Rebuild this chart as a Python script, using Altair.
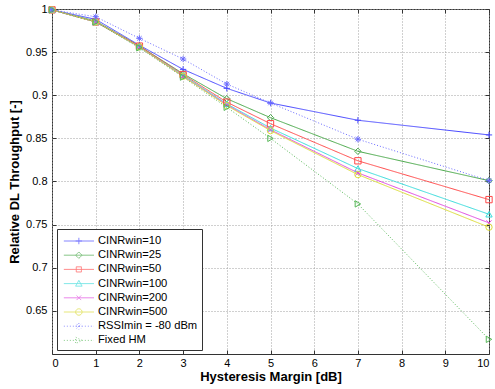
import altair as alt
import pandas as pd

hm = [0, 1, 2, 3, 4, 5, 7, 10]
series_names = ["CINRwin=10", "CINRwin=25", "CINRwin=50", "CINRwin=100",
                "CINRwin=200", "CINRwin=500", "RSSImin = -80 dBm", "Fixed HM"]
cinr10 = [0.999, 0.988, 0.958, 0.930, 0.908, 0.891, 0.871, 0.854]
cinr25 = [0.999, 0.986, 0.957, 0.925, 0.896, 0.874, 0.835, 0.801]
cinr50 = [0.999, 0.985, 0.957, 0.924, 0.892, 0.867, 0.824, 0.779]
cinr100 = [0.999, 0.985, 0.956, 0.923, 0.890, 0.862, 0.815, 0.762]
cinr200 = [0.999, 0.985, 0.956, 0.922, 0.889, 0.860, 0.810, 0.752]
cinr500 = [0.999, 0.985, 0.956, 0.922, 0.888, 0.859, 0.808, 0.747]
rssi = [0.999, 0.991, 0.966, 0.942, 0.913, 0.891, 0.849, 0.801]
fixed = [0.999, 0.985, 0.955, 0.921, 0.886, 0.850, 0.774, 0.617]
all_series = [cinr10, cinr25, cinr50, cinr100, cinr200, cinr500, rssi, fixed]

x_ticks = list(range(11))
y_ticks = [0.65, 0.7, 0.75, 0.8, 0.85, 0.9, 0.95, 1.0]

colors = ["#4848ff", "#48a848", "#ff4848", "#38dcdc", "#e048e0", "#dcdc38", "#6a6aff", "#58b858"]
dashes = [[1, 0]] * 6 + [[1, 2], [1, 2]]

rows = []
for name, vals in zip(series_names, all_series):
    for xv, yv in zip(hm, vals):
        rows.append({"hm": xv, "thr": yv, "series": name})
df = pd.DataFrame(rows)

# marker shapes for the data points
star = "M-1,0H1M0,-1V1M-0.7,-0.7L0.7,0.7M-0.7,0.7L0.7,-0.7"
point_shapes = ["M-1,0H1M0,-1V1", "diamond", "square", "triangle-up",
                "M-0.8,-0.8L0.8,0.8M-0.8,0.8L0.8,-0.8", "circle", star, "triangle-right"]

# legend symbols: line sample plus marker
cx = 1.38
r = 0.45
line = "M-0.72,0H3.5"
def f(v):
    return f"{v:.3f}"
leg_markers = [
    f"M{f(cx-r)},0H{f(cx+r)}M{f(cx)},{f(-r)}V{f(r)}",
    f"M{f(cx)},{f(-r)}L{f(cx+r)},0L{f(cx)},{f(r)}L{f(cx-r)},0Z",
    f"M{f(cx-0.8*r)},{f(-0.8*r)}H{f(cx+0.8*r)}V{f(0.8*r)}H{f(cx-0.8*r)}Z",
    f"M{f(cx)},{f(-r)}L{f(cx+r)},{f(0.8*r)}L{f(cx-r)},{f(0.8*r)}Z",
    f"M{f(cx-0.7*r)},{f(-0.7*r)}L{f(cx+0.7*r)},{f(0.7*r)}M{f(cx-0.7*r)},{f(0.7*r)}L{f(cx+0.7*r)},{f(-0.7*r)}",
    f"M{f(cx-r)},0A{f(r)},{f(r)} 0 1,0 {f(cx+r)},0A{f(r)},{f(r)} 0 1,0 {f(cx-r)},0Z",
    f"M{f(cx-r)},0H{f(cx+r)}M{f(cx)},{f(-r)}V{f(r)}M{f(cx-0.7*r)},{f(-0.7*r)}L{f(cx+0.7*r)},{f(0.7*r)}M{f(cx-0.7*r)},{f(0.7*r)}L{f(cx+0.7*r)},{f(-0.7*r)}",
    f"M{f(cx+r)},0L{f(cx-r)},{f(-r)}L{f(cx-r)},{f(r)}Z",
]
legend_shapes = [line + mk for mk in leg_markers]

font = "Liberation Sans"
axis_color = "#333333"
W, H = 437, 345
x_dom = [0, 10]
y_dom = [0.6, 1.0]

x_main = alt.X("hm:Q", scale=alt.Scale(domain=x_dom, nice=False),
               axis=alt.Axis(values=x_ticks, title="Hysteresis Margin [dB]", format="d"))
y_main = alt.Y("thr:Q", scale=alt.Scale(domain=y_dom, nice=False, zero=False),
               axis=alt.Axis(values=y_ticks, title="Relative DL Throughput [-]", format=".2~f"))

def tick_axis(vals, orient, offset):
    return alt.Axis(values=vals, orient=orient, offset=offset, title=None, labels=False,
                    grid=False, domain=False, ticks=True, tickSize=4, tickColor=axis_color, tickWidth=1)

# inward ticks: bottom/left edges (drawn from the opposite side with a negative offset)
x_in1 = alt.X("hm:Q", scale=alt.Scale(domain=x_dom, nice=False), axis=tick_axis(x_ticks, "top", -H))
y_in1 = alt.Y("thr:Q", scale=alt.Scale(domain=y_dom, nice=False, zero=False), axis=tick_axis(y_ticks, "right", -W))
# inward ticks: top/right edges
x_in2 = alt.X("hm:Q", scale=alt.Scale(domain=x_dom, nice=False), axis=tick_axis(x_ticks, "bottom", -H))
y_in2 = alt.Y("thr:Q", scale=alt.Scale(domain=y_dom, nice=False, zero=False), axis=tick_axis(y_ticks, "left", -W))

color_scale = alt.Scale(domain=series_names, range=colors)
dash_scale = alt.Scale(domain=series_names, range=dashes)

leg = alt.Legend(
    orient="none", legendX=5, legendY=220,
    fillColor="white", strokeColor="#333333", padding=4,
    symbolSize=204, labelOffset=21, rowPadding=0.2,
    labelFont=font, labelFontSize=11.2, labelColor="black",
    symbolStrokeWidth=1, symbolFillColor="transparent",
)

lines = alt.Chart(df).mark_line(strokeWidth=1).encode(
    x=x_main, y=y_main,
    color=alt.Color("series:N", title=None, scale=color_scale, legend=None),
    strokeDash=alt.StrokeDash("series:N", title=None, scale=dash_scale, legend=None),
    detail="series:N",
)
points = alt.Chart(df).mark_point(filled=False, size=40, strokeWidth=1, opacity=1).encode(
    x=x_in1, y=y_in1,
    color=alt.Color("series:N", title=None, scale=color_scale, legend=None),
    shape=alt.Shape("series:N", title=None, scale=alt.Scale(domain=series_names, range=point_shapes), legend=None),
)
legend_layer = alt.Chart(df).transform_filter("false").mark_point(filled=False, strokeWidth=1).encode(
    x=x_in2, y=y_in2,
    color=alt.Color("series:N", title=None, scale=color_scale, legend=leg),
    shape=alt.Shape("series:N", title=None, scale=alt.Scale(domain=series_names, range=legend_shapes), legend=leg),
    strokeDash=alt.StrokeDash("series:N", title=None, scale=dash_scale, legend=leg),
)

chart = alt.layer(lines, points, legend_layer).resolve_scale(
    x="independent", y="independent",
    shape="independent", color="independent", strokeDash="independent"
).properties(
    width=W, height=H,
    autosize=alt.AutoSizeParams(type="none"),
    padding={"left": 52, "top": 9, "right": 6, "bottom": 35},
    background="white",
).configure_view(
    stroke=axis_color, strokeWidth=1,
).configure_axis(
    grid=True, gridColor="#a0a0a0", gridDash=[1, 2], gridWidth=1, gridOpacity=1,
    domain=False, ticks=False,
    labelFont=font, labelFontSize=11, labelColor="black",
    titleFont=font, titleFontSize=13, titleFontWeight="bold", titleColor="black",
).configure_axisX(
    labelPadding=3, titlePadding=2,
).configure_axisY(
    labelPadding=5, titlePadding=4,
)

chart.save("out.html", embed_options={"renderer": "svg", "actions": False})
